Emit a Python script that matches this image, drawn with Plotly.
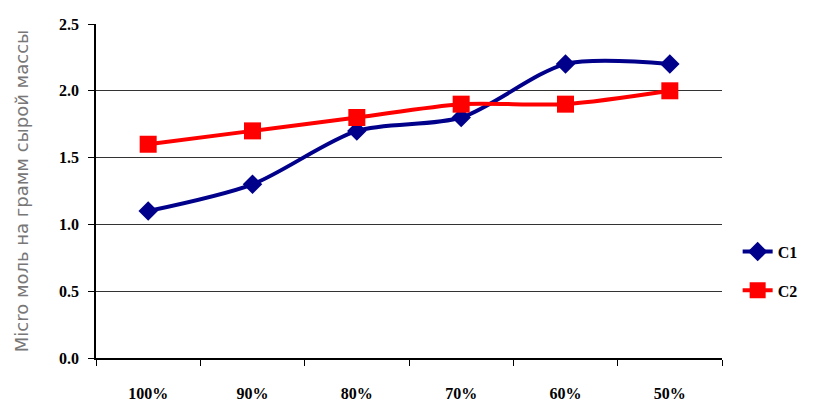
import plotly.graph_objects as go

categories = ["100%", "90%", "80%", "70%", "60%", "50%"]
c1_values = [1.1, 1.3, 1.7, 1.8, 2.2, 2.2]
c2_values = [1.6, 1.7, 1.8, 1.9, 1.9, 2.0]
y_ticks = [0.0, 0.5, 1.0, 1.5, 2.0, 2.5]
y_tick_labels = ["0.0", "0.5", "1.0", "1.5", "2.0", "2.5"]

fig = go.Figure()
fig.add_trace(go.Scatter(
    x=categories, y=c1_values, name="<b>C1</b>", mode="lines+markers",
    legendgroup="c1",
    line=dict(color="#00008B", width=4, shape="spline", smoothing=0.8),
    marker=dict(symbol="diamond", size=15, color="#00008B"),
))
fig.add_trace(go.Scatter(
    x=categories, y=c2_values, name="<b>C2</b>", mode="lines+markers",
    legendgroup="c2",
    line=dict(color="#FF0000", width=4, shape="spline", smoothing=0.8),
    marker=dict(symbol="square", size=17, color="#FF0000"),
))

tick_font = dict(family="Liberation Serif", size=16, color="black", weight="bold")

fig.update_layout(
    width=818, height=403,
    margin=dict(l=96, r=96, t=24, b=45),
    paper_bgcolor="white", plot_bgcolor="white",
    font=dict(family="Liberation Serif", color="black"),
    legend=dict(
        x=1.025, y=0.26, xanchor="left", yanchor="middle",
        font=dict(family="Liberation Serif", size=16, color="black"),
        tracegroupgap=15, bgcolor="rgba(0,0,0,0)",
    ),
    xaxis=dict(
        type="category", range=[-0.5, 5.5], autorange=False, automargin=False,
        showgrid=False, showline=True, linecolor="black", linewidth=1.5,
        ticks="outside", tickson="boundaries", ticklen=6, tickcolor="black",
        tickfont=tick_font, ticklabelstandoff=20,
    ),
    yaxis=dict(
        range=[0, 2.5], tickvals=y_ticks, ticktext=y_tick_labels, automargin=False,
        showgrid=True, gridcolor="#333333", gridwidth=1,
        showline=True, linecolor="black", linewidth=1.5,
        ticks="outside", ticklen=6, tickcolor="black",
        tickfont=tick_font, ticklabelstandoff=6,
        zeroline=False,
        title=dict(text="Micro моль на грамм сырой массы",
                   font=dict(family="DejaVu Sans", size=18, color="#777777"),
                   standoff=26),
    ),
)

fig.write_html("out.html")
